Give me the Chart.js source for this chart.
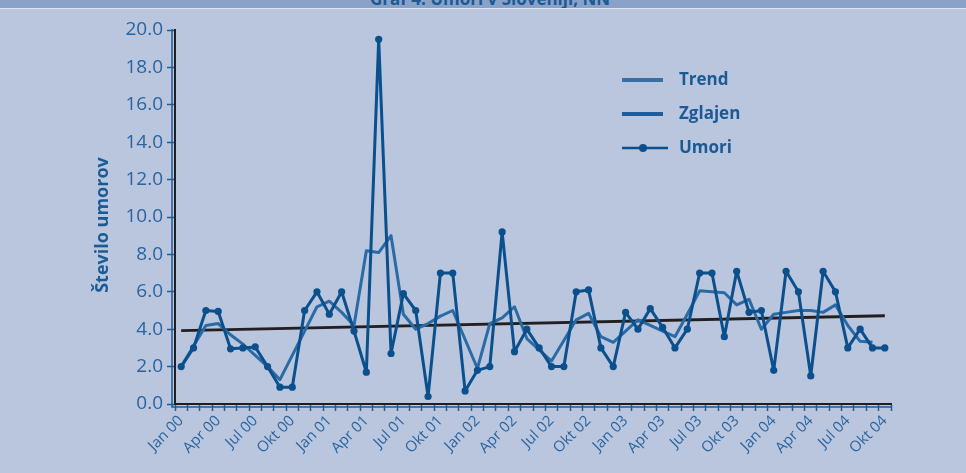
<!DOCTYPE html>
<html>
<head>
    <title>Število umorov</title>
    <style>
        body {
            margin: 0;
            background: #b9c6de;
            font-family: 'Open Sans', sans-serif;
        }

        .page {
            position: relative;
            width: 966px;
            height: 473px;
            overflow: hidden;
        }

        .chart-box {
            position: absolute;
            left: 0;
            top: 0;
            width: 966px;
            height: 473px;
        }

        /* title strip, cut off at the top of the picture */
        .band {
            position: absolute;
            left: 0;
            top: 0;
            width: 966px;
            height: 8px;
            background: #8aa2c8;
            border-bottom: 1px solid #dde4f0;
            overflow: hidden;
        }

        .band span {
            position: absolute;
            left: 7px;
            width: 966px;
            bottom: 1px;
            text-align: center;
            font-weight: bold;
            font-size: 17px;
            line-height: 17px;
            color: #1c5a96;
        }
    </style>
</head>
<body>
    <div class="page">
        <div class="chart-box"><canvas id="chart"></canvas></div>
        <div class="band"><span>Graf 4: Umori v Sloveniji, NN</span></div>
    </div>
    <script src="https://cdn.jsdelivr.net/npm/chart.js"></script>
    <script>
        const months = [
            'Jan 00', 'Feb 00', 'Mar 00', 'Apr 00', 'Maj 00', 'Jun 00', 'Jul 00', 'Avg 00', 'Sep 00', 'Okt 00', 'Nov 00', 'Dec 00',
            'Jan 01', 'Feb 01', 'Mar 01', 'Apr 01', 'Maj 01', 'Jun 01', 'Jul 01', 'Avg 01', 'Sep 01', 'Okt 01', 'Nov 01', 'Dec 01',
            'Jan 02', 'Feb 02', 'Mar 02', 'Apr 02', 'Maj 02', 'Jun 02', 'Jul 02', 'Avg 02', 'Sep 02', 'Okt 02', 'Nov 02', 'Dec 02',
            'Jan 03', 'Feb 03', 'Mar 03', 'Apr 03', 'Maj 03', 'Jun 03', 'Jul 03', 'Avg 03', 'Sep 03', 'Okt 03', 'Nov 03', 'Dec 03',
            'Jan 04', 'Feb 04', 'Mar 04', 'Apr 04', 'Maj 04', 'Jun 04', 'Jul 04', 'Avg 04', 'Sep 04', 'Okt 04'
        ];

        const umori = [
            2.0, 3.0, 5.0, 4.95, 2.95, 3.0, 3.05, 2.0, 0.9, 0.9, 5.0, 6.0,
            4.8, 6.0, 3.9, 1.7, 19.5, 2.7, 5.9, 5.0, 0.4, 7.0, 7.0, 0.7,
            1.8, 2.0, 9.2, 2.8, 4.0, 3.0, 2.0, 2.0, 6.0, 6.1, 3.0, 2.0,
            4.9, 4.0, 5.1, 4.1, 3.0, 4.0, 7.0, 7.0, 3.6, 7.1, 4.9, 5.0,
            1.8, 7.1, 6.0, 1.5, 7.1, 6.0, 3.0, 4.0, 3.0, 3.0
        ];

        const zglajen = [
            2.0, 3.1, 4.2, 4.3, 3.7, 3.2, 2.6, 2.0, 1.3, 2.6, 3.9, 5.2,
            5.5, 4.9, 4.2, 8.2, 8.1, 9.0, 4.8, 4.0, 4.3, 4.7, 5.0, 3.45,
            1.9, 4.3, 4.6, 5.2, 3.5, 2.9, 2.3, 3.4, 4.5, 4.85, 3.6, 3.3,
            3.9, 4.5, 4.2, 3.9, 3.6, 4.8, 6.05, 6.0, 5.95, 5.3, 5.6, 4.0,
            4.8, 4.9, 5.0, 5.0, 4.9, 5.3, 4.2, 3.35, 3.3, null
        ];

        // linear trend: only its two end values
        const trendStart = 3.92;
        const trendEnd = 4.72;
        const trend = [trendStart].concat(new Array(months.length - 2).fill(null), [trendEnd]);

        const yTicks = [0, 2, 4, 6, 8, 10, 12, 14, 16, 18, 20];

        const blue = '#1c5a96';
        const tickBlue = '#2a64a0';

        const legendItems = [
            { label: 'Trend', color: '#3a6fa6', width: 4, dot: false },
            { label: 'Zglajen', color: '#1f5c99', width: 4, dot: false },
            { label: 'Umori', color: '#0b4f8c', width: 2.5, dot: true }
        ];

        // legend in the upper right part of the plot
        const sideLegend = {
            id: 'sideLegend',
            afterDraw(chart) {
                const ctx = chart.ctx;
                ctx.save();
                legendItems.forEach((item, i) => {
                    const y = 80 + i * 34;
                    ctx.strokeStyle = item.color;
                    ctx.lineWidth = item.width;
                    ctx.beginPath();
                    ctx.moveTo(622, y);
                    ctx.lineTo(item.dot ? 668 : 663, y);
                    ctx.stroke();
                    if (item.dot) {
                        ctx.fillStyle = item.color;
                        ctx.beginPath();
                        ctx.arc(643, y, 4, 0, Math.PI * 2);
                        ctx.fill();
                    }
                    ctx.fillStyle = blue;
                    ctx.font = 'bold 17px "Open Sans"';
                    ctx.textBaseline = 'middle';
                    ctx.fillText(item.label, 679, y);
                });
                ctx.restore();
            }
        };

        // blue axis lines just outside the black frame, and the y axis title
        const outerAxes = {
            id: 'outerAxes',
            afterDraw(chart) {
                const a = chart.chartArea;
                const ctx = chart.ctx;
                ctx.save();
                ctx.strokeStyle = '#1f5c99';
                ctx.lineWidth = 1.5;
                ctx.beginPath();
                ctx.moveTo(a.left - 3, a.top - 1);
                ctx.lineTo(a.left - 3, a.bottom + 3);
                ctx.lineTo(a.right, a.bottom + 3);
                ctx.stroke();

                ctx.translate(103, 225);
                ctx.rotate(-Math.PI / 2);
                ctx.fillStyle = blue;
                ctx.font = 'bold 18px "Open Sans"';
                ctx.textAlign = 'center';
                ctx.textBaseline = 'middle';
                ctx.fillText('Število umorov', 0, 0);
                ctx.restore();
            }
        };

        document.addEventListener('DOMContentLoaded', function() {
            const ctx = document.getElementById('chart').getContext('2d');
            new Chart(ctx, {
                type: 'line',
                data: {
                    labels: months,
                    datasets: [{
                        label: 'Umori',
                        data: umori,
                        borderColor: '#0b4f8c',
                        backgroundColor: '#0b4f8c',
                        borderWidth: 3,
                        borderJoinStyle: 'round',
                        pointRadius: 3.6,
                        pointBorderWidth: 0,
                        pointBackgroundColor: '#0b4f8c',
                        tension: 0
                    }, {
                        label: 'Zglajen',
                        data: zglajen,
                        borderColor: '#2a6ba6',
                        borderWidth: 3,
                        borderJoinStyle: 'round',
                        pointRadius: 0,
                        tension: 0
                    }, {
                        label: 'Trend',
                        data: trend,
                        borderColor: '#231f20',
                        borderWidth: 2.8,
                        pointRadius: 0,
                        spanGaps: true,
                        tension: 0
                    }]
                },
                options: {
                    responsive: true,
                    maintainAspectRatio: false,
                    animation: false,
                    layout: {
                        padding: { left: 89, right: 75, top: 30, bottom: 0 }
                    },
                    plugins: {
                        legend: { display: false },
                        tooltip: { enabled: false }
                    },
                    scales: {
                        x: {
                            offset: true,
                            afterFit: function(scale) { scale.height = 69; },
                            grid: {
                                offset: true,
                                drawOnChartArea: false,
                                drawTicks: true,
                                tickLength: 7,
                                tickWidth: 1.5,
                                tickColor: '#1f5c99'
                            },
                            border: { display: true, color: '#231f20', width: 2 },
                            ticks: {
                                autoSkip: false,
                                maxRotation: 45,
                                minRotation: 45,
                                padding: 1,
                                color: tickBlue,
                                font: { family: 'Open Sans', size: 15 },
                                callback: function(value, index) {
                                    return index % 3 === 0 ? months[index] : '';
                                }
                            }
                        },
                        y: {
                            min: 0,
                            max: 20,
                            afterFit: function(scale) { scale.width = 86; },
                            afterBuildTicks: function(scale) {
                                scale.ticks = yTicks.map(v => ({ value: v }));
                            },
                            grid: {
                                drawOnChartArea: false,
                                drawTicks: true,
                                tickLength: 8,
                                tickWidth: 1.5,
                                tickColor: '#1f5c99'
                            },
                            border: { display: true, color: '#231f20', width: 2 },
                            ticks: {
                                padding: 4,
                                color: tickBlue,
                                font: { family: 'Open Sans', size: 19 },
                                callback: function(value) { return value.toFixed(1); }
                            }
                        }
                    }
                },
                plugins: [sideLegend, outerAxes]
            });
        });
    </script>
</body>
</html>
